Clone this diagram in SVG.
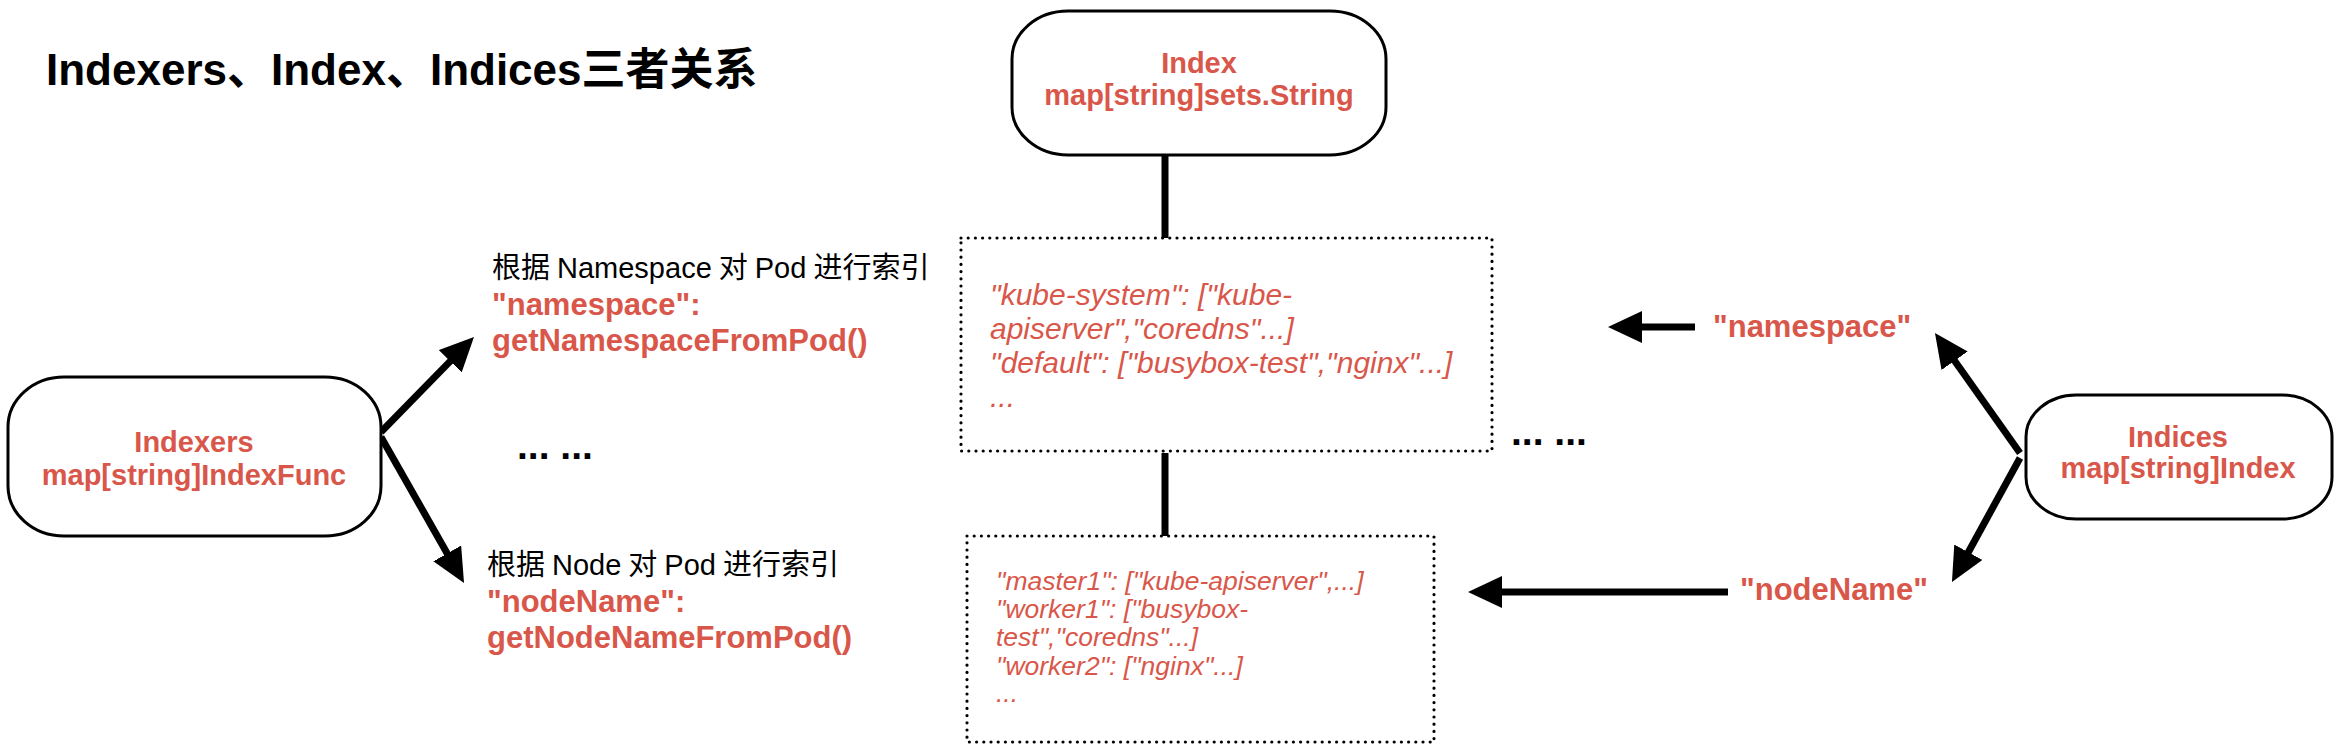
<svg xmlns="http://www.w3.org/2000/svg" width="2342" height="756" viewBox="0 0 2342 756">
<style>
.node{fill:#fff;stroke:#000;stroke-width:3}
.dot{fill:none;stroke:#000;stroke-width:3.2;stroke-dasharray:0 7.2;stroke-linecap:round}
.lbl{font-family:"Liberation Sans",Arial,sans-serif;font-weight:bold;fill:#D9574A;text-anchor:middle;font-size:29px}
.side{font-family:"Liberation Sans",Arial,sans-serif;font-weight:bold;fill:#D9574A;font-size:31px}
.cn{font-family:"Liberation Sans","Noto Sans CJK SC",sans-serif;fill:#000;font-size:29px}
.it{font-family:"Liberation Sans",Arial,sans-serif;font-style:italic;fill:#D9574A}
.dots{font-family:"Liberation Sans",Arial,sans-serif;font-weight:bold;fill:#000;font-size:39px}
.title{font-family:"Liberation Sans","Noto Sans CJK SC",sans-serif;font-weight:bold;fill:#000;font-size:44px}
.arr{stroke:#000;stroke-width:7;fill:none}
</style>
<defs>
<marker id="ah" markerUnits="userSpaceOnUse" markerWidth="36" markerHeight="34" refX="4" refY="16" orient="auto" viewBox="0 0 36 34">
<path d="M0,0 L34,16 L0,32 z" fill="#000"/>
</marker>
</defs>
<rect width="2342" height="756" fill="#fff"/>
<text class="title" x="46" y="85">Indexers、Index、Indices三者关系</text>

<g id="connectors">
<line class="arr" x1="1165" y1="155" x2="1165" y2="238"/>
<line class="arr" x1="1165" y1="453" x2="1165" y2="536"/>
<line class="arr" x1="381" y1="432" x2="453" y2="358.4" marker-end="url(#ah)"/>
<line class="arr" x1="381" y1="437" x2="449.2" y2="556.9" marker-end="url(#ah)"/>
<line class="arr" x1="1695" y1="327" x2="1638" y2="327" marker-end="url(#ah)"/>
<line class="arr" x1="1728" y1="592" x2="1498" y2="592" marker-end="url(#ah)"/>
<line class="arr" x1="2020" y1="453" x2="1952.3" y2="357.5" marker-end="url(#ah)"/>
<line class="arr" x1="2020" y1="458" x2="1966.4" y2="555.7" marker-end="url(#ah)"/>
</g>

<g id="index">
<rect class="node" x="1012" y="11" width="374" height="144" rx="56" ry="48"/>
<text class="lbl" x="1199" y="73">Index</text>
<text class="lbl" x="1199" y="105">map[string]sets.String</text>
</g>

<g id="indexers">
<rect class="node" x="8" y="377" width="373" height="159" rx="56" ry="50"/>
<text class="lbl" x="194" y="452">Indexers</text>
<text class="lbl" x="194" y="485">map[string]IndexFunc</text>
</g>

<g id="indices">
<rect class="node" x="2026" y="395" width="306" height="124" rx="50" ry="42"/>
<text class="lbl" x="2178" y="447">Indices</text>
<text class="lbl" x="2178" y="478">map[string]Index</text>
</g>

<g id="namespace-index">
<rect class="dot" x="961" y="238" width="531" height="213"/>
<text class="it" font-size="30" x="990" y="305">"kube-system": ["kube-</text>
<text class="it" font-size="30" x="990" y="339">apiserver","coredns"...]</text>
<text class="it" font-size="30" x="990" y="373">"default": ["busybox-test","nginx"...]</text>
<text class="it" font-size="30" x="990" y="407">...</text>
</g>

<g id="node-index">
<rect class="dot" x="967" y="536" width="467" height="206"/>
<text class="it" font-size="26.5" x="996" y="590">"master1": ["kube-apiserver",...]</text>
<text class="it" font-size="26.5" x="996" y="618">"worker1": ["busybox-</text>
<text class="it" font-size="26.5" x="996" y="646">test","coredns"...]</text>
<text class="it" font-size="26.5" x="996" y="675">"worker2": ["nginx"...]</text>
<text class="it" font-size="26.5" x="996" y="702">...</text>
</g>

<g id="ns-func">
<text class="cn" x="492" y="278">根据<tspan dx="7">Namespace</tspan><tspan dx="7">对</tspan><tspan dx="7">Pod</tspan><tspan dx="7">进行索引</tspan></text>
<text class="side" x="492" y="315">"namespace":</text>
<text class="side" x="492" y="351">getNamespaceFromPod()</text>
</g>

<g id="node-func">
<text class="cn" x="487" y="575">根据<tspan dx="7">Node</tspan><tspan dx="7">对</tspan><tspan dx="7">Pod</tspan><tspan dx="7">进行索引</tspan></text>
<text class="side" x="487" y="612">"nodeName":</text>
<text class="side" x="487" y="648">getNodeNameFromPod()</text>
</g>

<g id="ns-key">
<text class="side" x="1713" y="337">"namespace"</text>
</g>
<g id="node-key">
<text class="side" x="1740" y="600">"nodeName"</text>
</g>

<g id="more-left"><text class="dots" x="517" y="459">... ...</text></g>
<g id="more-right"><text class="dots" x="1511" y="445">... ...</text></g>
</svg>
